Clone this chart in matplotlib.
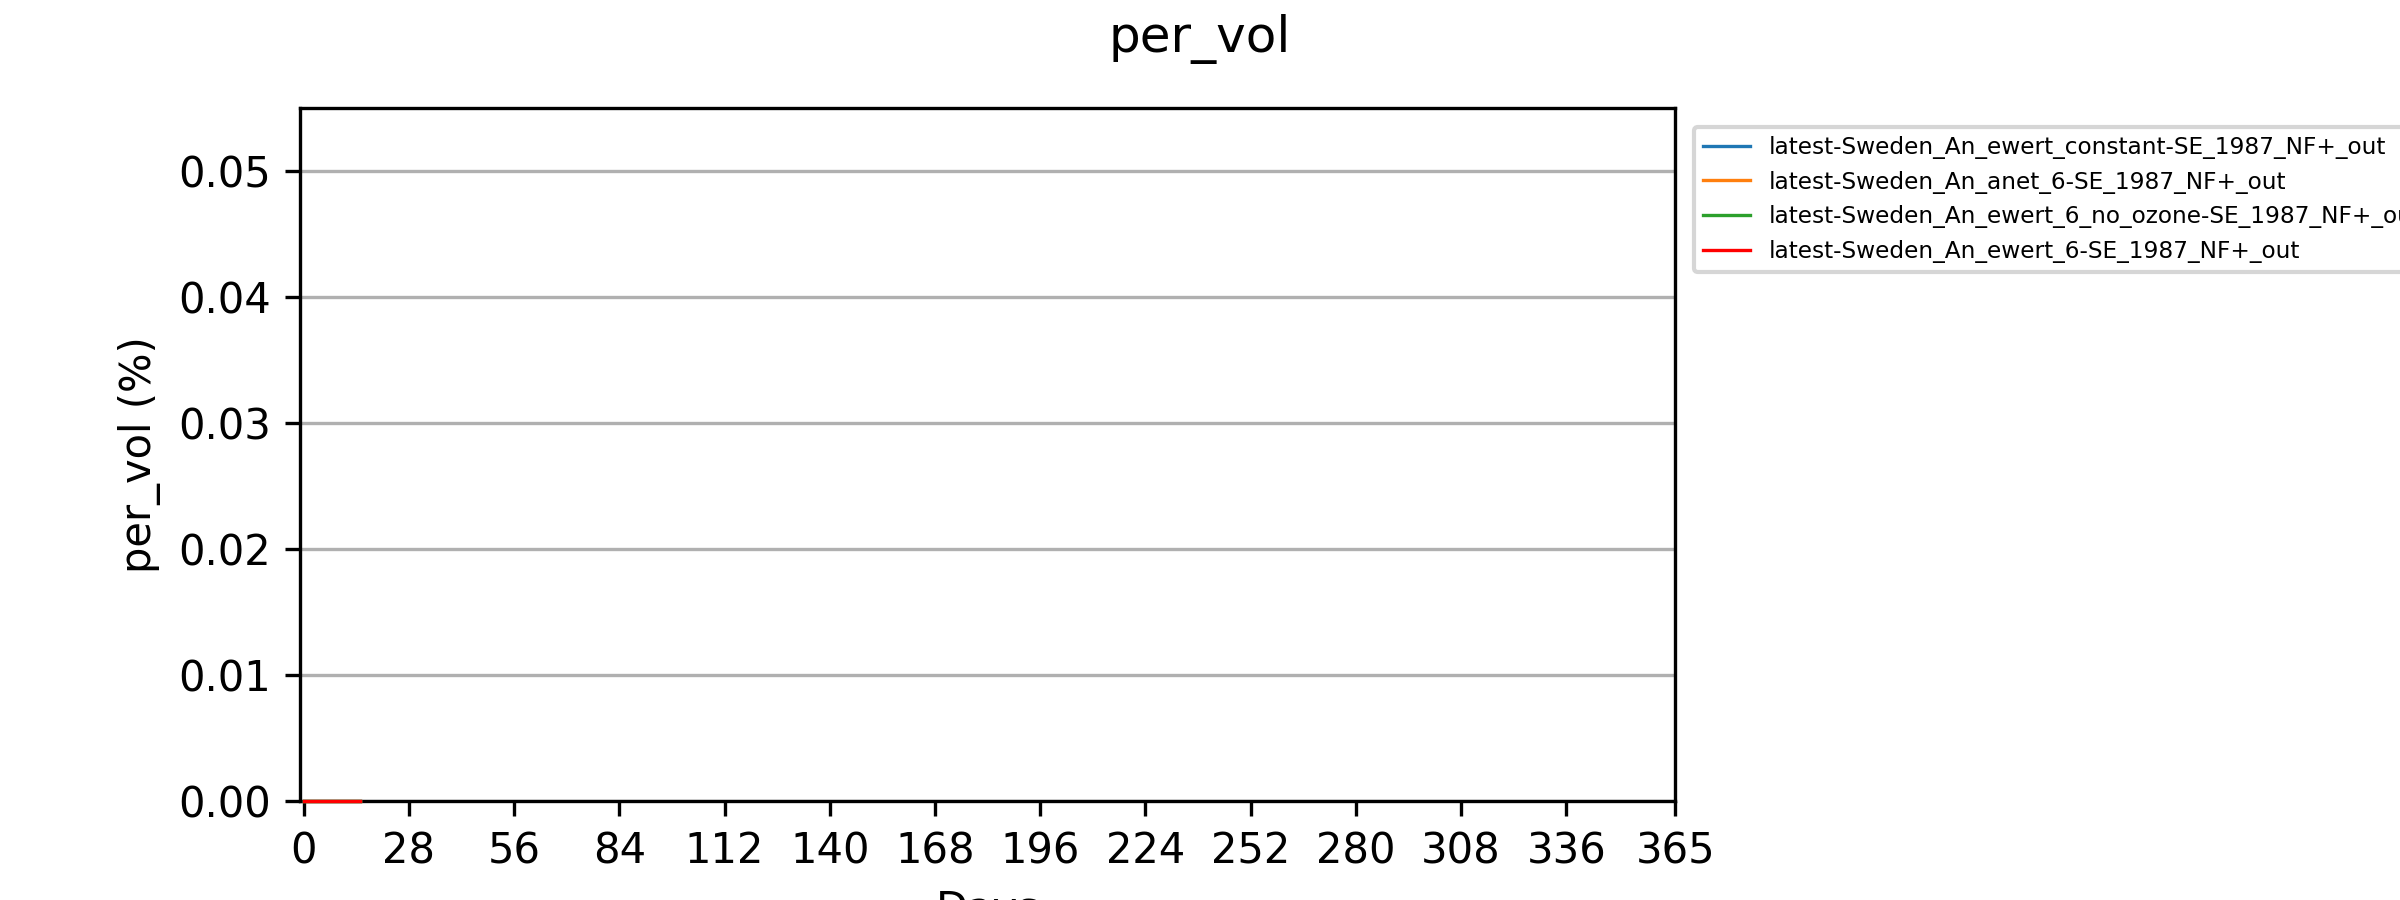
import matplotlib
matplotlib.use("Agg")
import matplotlib.pyplot as plt

days = list(range(0, 16))
series_names = [
    "latest-Sweden_An_ewert_constant-SE_1987_NF+_out",
    "latest-Sweden_An_anet_6-SE_1987_NF+_out",
    "latest-Sweden_An_ewert_6_no_ozone-SE_1987_NF+_out",
    "latest-Sweden_An_ewert_6-SE_1987_NF+_out",
]
series_values = [[0.0] * len(days) for _ in series_names]
colors = ["#1f77b4", "#ff7f0e", "#2ca02c", "red"]
xticks = [0, 28, 56, 84, 112, 140, 168, 196, 224, 252, 280, 308, 336, 365]

fig = plt.figure(figsize=(8, 3), dpi=300)
ax = fig.add_axes([0.125, 0.11, 0.573, 0.77])
for name, vals, c in zip(series_names, series_values, colors):
    ax.plot(days, vals, color=c, linewidth=0.8, label=name, zorder=3, clip_on=False)
ax.set_xlim(-1, 365)
ax.set_ylim(0, 0.055)
ax.set_xticks(xticks)
ax.set_yticks([0.0, 0.01, 0.02, 0.03, 0.04, 0.05])
ax.yaxis.grid(True, color="#b0b0b0", linewidth=0.8)
ax.set_xlabel("Days")
ax.set_ylabel("per_vol (%)")
fig.suptitle("per_vol", y=0.985)
ax.legend(loc="upper left", bbox_to_anchor=(1.005, 0.99), fontsize=5.6)
fig.savefig("out.png")
